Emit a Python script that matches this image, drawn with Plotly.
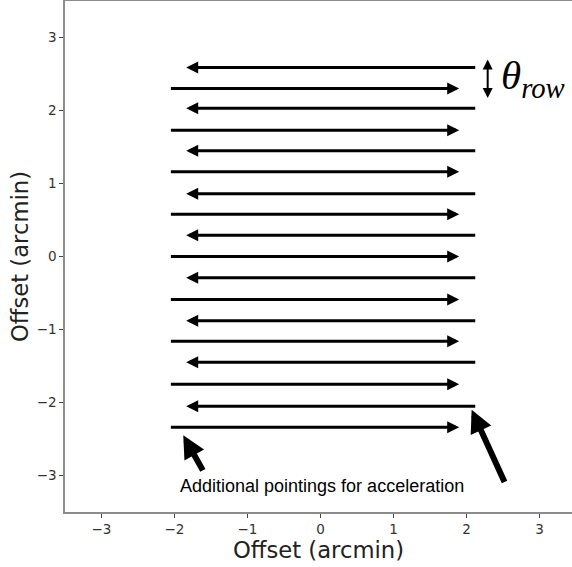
import plotly.graph_objects as go

# Scan rows (arcmin)
left_rows_y = [2.59, 2.03, 1.45, 0.86, 0.29, -0.29, -0.88, -1.45, -2.05]
right_rows_y = [2.30, 1.73, 1.16, 0.58, 0.00, -0.59, -1.16, -1.75, -2.34]
left_start_x, left_end_x = 2.14, -1.84
right_start_x, right_end_x = -2.07, 1.90

# theta_row marker
theta_x = 2.29
theta_y_top, theta_y_bot = 2.72, 2.17
theta_label_x, theta_label_y = 2.44, 2.45

# pointer arrows (tail -> tip)
pointer_tails = [(-1.60, -2.95), (2.53, -3.11)]
pointer_tips = [(-1.88, -2.45), (2.07, -2.10)]
note_text = "Additional pointings for acceleration"
note_x, note_y = 0.02, -3.14

tick_vals = [-3, -2, -1, 0, 1, 2, 3]
tick_text = ["\u22123", "\u22122", "\u22121", "0", "1", "2", "3"]

fig = go.Figure()
fig.add_trace(go.Scatter(x=[None], y=[None], showlegend=False, hoverinfo="skip"))

ann = []
for y in left_rows_y:
    ann.append(dict(x=left_end_x, y=y, ax=left_start_x, ay=y, xref="x", yref="y",
                    axref="x", ayref="y", text="", showarrow=True, arrowhead=2,
                    arrowsize=0.8, arrowwidth=3, arrowcolor="black", standoff=0))
for y in right_rows_y:
    ann.append(dict(x=right_end_x, y=y, ax=right_start_x, ay=y, xref="x", yref="y",
                    axref="x", ayref="y", text="", showarrow=True, arrowhead=2,
                    arrowsize=0.8, arrowwidth=3, arrowcolor="black", standoff=0))
# theta_row double arrow
ann.append(dict(x=theta_x, y=theta_y_bot, ax=theta_x, ay=theta_y_top, xref="x", yref="y",
                axref="x", ayref="y", text="", showarrow=True, arrowhead=2,
                startarrowhead=2, arrowside="end+start", arrowsize=1.0, startarrowsize=1.0,
                arrowwidth=2, arrowcolor="black", standoff=0, startstandoff=0))
ann.append(dict(x=theta_label_x, y=theta_label_y, xref="x", yref="y", showarrow=False,
                xanchor="left", yanchor="middle",
                text="<i>\u03b8</i><sub><i>row</i></sub>",
                font=dict(family="Liberation Serif, Times New Roman, serif", size=41, color="black")))
for (tx, ty), (hx, hy) in zip(pointer_tails, pointer_tips):
    ann.append(dict(x=hx, y=hy, ax=tx, ay=ty, xref="x", yref="y", axref="x", ayref="y",
                    text="", showarrow=True, arrowhead=2, arrowsize=0.75, arrowwidth=6,
                    arrowcolor="black", standoff=0))
ann.append(dict(x=note_x, y=note_y, xref="x", yref="y", showarrow=False, text=note_text,
                font=dict(family="Liberation Sans, Arial, sans-serif", size=18, color="black")))

axis_common = dict(showgrid=False, zeroline=False, showline=True, linecolor="#8c8c8c",
                   linewidth=1.5, ticks="outside", ticklen=4, tickwidth=1.2, tickcolor="#444",
                   tickvals=tick_vals, ticktext=tick_text,
                   tickfont=dict(family="DejaVu Sans", size=13.5, color="#333"),
                   title_font=dict(family="DejaVu Sans", size=22.7, color="#222"))

fig.update_layout(
    width=572, height=567,
    margin=dict(l=65, r=0, t=1, b=55, pad=0),
    paper_bgcolor="white", plot_bgcolor="white",
    showlegend=False,
    hovermode=False,
    annotations=ann,
    xaxis=dict(range=[-3.5, 3.445], title_text="Offset (arcmin)", mirror=True,
               title_standoff=4, **axis_common),
    yaxis=dict(range=[-3.5, 3.5], title_text="Offset (arcmin)", title_standoff=2,
               **axis_common),
)

fig.write_html("out.html", config={"displayModeBar": False},
               post_script="document.body.style.margin='0px';document.body.style.overflow='hidden';")
